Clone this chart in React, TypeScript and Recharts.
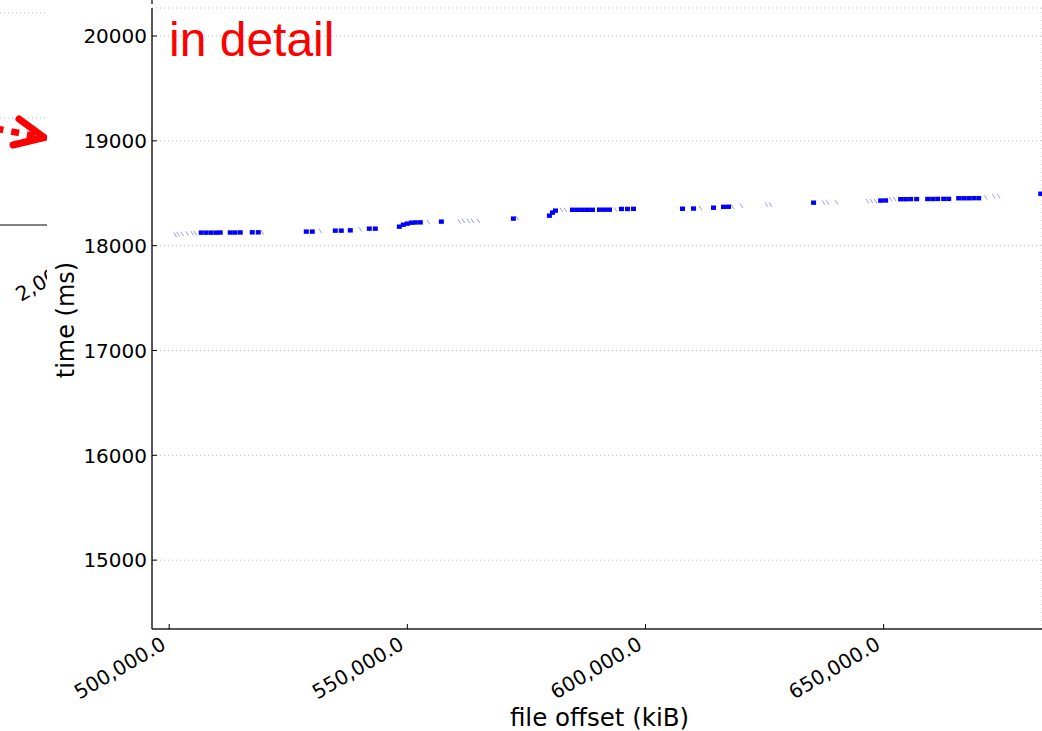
import React from 'react';
import { ScatterChart, Scatter, XAxis, YAxis, CartesianGrid, Customized } from 'recharts';

// file offset (kiB) / time (ms) of the dense (solid) request markers
const blockOffsets = [
  506723, 507773, 508823, 509874, 510714, 512815, 513815, 514916, 517437, 518697,
  528781, 530042, 534873, 536134, 538025, 542016, 543277, 548318, 549158, 549998,
  550839, 551680, 552730, 557142, 572267, 579830, 580461, 581091, 584662, 585713,
  586763, 587814, 588864, 590335, 591386, 592436, 594957, 596218, 597479, 607770,
  610082, 614284, 616385, 617436, 635291, 649370, 650420, 653568, 654618, 655669,
  656930, 659243, 660294, 661344, 662605, 663655, 665756, 666807, 667857, 668908,
  669958, 682980,
];
const blockTimes = [
  18124, 18124, 18124, 18124, 18125, 18125, 18125, 18126, 18127, 18127,
  18134, 18134, 18143, 18143, 18146, 18162, 18162, 18181, 18200, 18210,
  18219, 18221, 18222, 18229, 18258, 18286, 18315, 18334, 18342, 18342,
  18342, 18342, 18342, 18343, 18343, 18343, 18350, 18350, 18351, 18352,
  18354, 18362, 18370, 18371, 18410, 18430, 18431, 18443, 18443, 18444,
  18444, 18445, 18445, 18446, 18446, 18446, 18452, 18452, 18452, 18453,
  18453, 18495,
];

// sparse (faint) request markers
const faintOffsets = [
  501261, 501891, 502731, 503782, 504832, 505462, 519537, 531722, 540125, 554410,
  560923, 561763, 562814, 563654, 564914, 573108, 582351, 583192, 593696, 611553,
  618276, 620167, 625419, 626260, 637392, 638232, 640124, 646597, 647438, 648278,
  651467, 652307, 671428, 673109, 674159,
];
const faintTimes = [
  18105, 18110, 18112, 18115, 18118, 18120, 18127, 18140, 18155, 18225,
  18230, 18236, 18237, 18238, 18238, 18260, 18340, 18341, 18346, 18358,
  18372, 18380, 18391, 18392, 18410, 18411, 18412, 18425, 18426, 18427,
  18445, 18446, 18460, 18470, 18471,
];

const xTicks = [500000, 550000, 600000, 650000];
const yTicks = [15000, 16000, 17000, 18000, 19000, 20000];
const xDomain: [number, number] = [496390, 683249];
const yDomain: [number, number] = [14343, 20267];

const blockData = blockOffsets.map((x, i) => ({ x, y: blockTimes[i] }));
const faintData = faintOffsets.map((x, i) => ({ x, y: faintTimes[i] }));

const TICK_FONT = 'DejaVu Sans, sans-serif';

const fmtX = (v: number) =>
  v.toLocaleString('en-US', { minimumFractionDigits: 1, maximumFractionDigits: 1 });

const XTick = (props: any) => {
  const { x, y, payload } = props;
  const tx = x - 2;
  const ty = y + 19;
  return (
    <g>
      <line x1={x} y1={y} x2={x} y2={y - 5} stroke="#000" strokeWidth={1} />
      <text
        x={tx}
        y={ty}
        textAnchor="end"
        transform={`rotate(-30.5 ${tx} ${ty})`}
        fontSize={20}
        fontFamily={TICK_FONT}
        fill="#000"
      >
        {fmtX(payload.value)}
      </text>
    </g>
  );
};

const TopTick = (props: any) => {
  const { x, y } = props;
  return <line x1={x} y1={y} x2={x} y2={y + 5} stroke="#000" strokeWidth={1} />;
};

const YTick = (props: any) => {
  const { x, y, payload } = props;
  return (
    <g>
      <line x1={x} y1={y} x2={x + 5} y2={y} stroke="#000" strokeWidth={1} />
      <text
        x={x - 5}
        y={y}
        dy="0.36em"
        textAnchor="end"
        fontSize={20}
        fontFamily={TICK_FONT}
        fill="#000"
      >
        {payload.value}
      </text>
    </g>
  );
};

const BlockShape = (props: any) => {
  const { cx, cy } = props;
  return <rect x={cx - 2.5} y={cy - 2.2} width={5} height={4.4} fill="#0000ff" />;
};

const FaintShape = (props: any) => {
  const { cx, cy } = props;
  return (
    <line
      x1={cx - 1.4}
      y1={cy - 2.2}
      x2={cx + 1.4}
      y2={cy + 2.2}
      stroke="#9a9aff"
      strokeWidth={1}
    />
  );
};

const Decorations = () => (
  <g>
    <defs>
      <clipPath id="leftPanelClip">
        <rect x={0} y={0} width={47} height={731} />
      </clipPath>
    </defs>
    <g clipPath="url(#leftPanelClip)">
      <line x1={0} y1={13} x2={45} y2={13} stroke="#bbbbbb" strokeWidth={1} strokeDasharray="1 3" />
      <line x1={0} y1={118} x2={45} y2={118} stroke="#bbbbbb" strokeWidth={1} strokeDasharray="1 3" />
      <line x1={0} y1={225} x2={47} y2={225} stroke="#808080" strokeWidth={2} />
      <line
        x1={-4.5}
        y1={128.5}
        x2={40}
        y2={137}
        stroke="#ff0000"
        strokeWidth={6.5}
        strokeDasharray="8 8"
      />
      <polyline
        points="19,119 44,137.5 13,145"
        fill="none"
        stroke="#ff0000"
        strokeWidth={7}
        strokeLinecap="round"
        strokeLinejoin="miter"
      />
      <text
        x={21}
        y={302}
        transform="rotate(-30.5 21 302)"
        fontSize={20}
        fontFamily={TICK_FONT}
        fill="#000"
      >
        2,000,000.0
      </text>
    </g>
    <line x1={152} y1={0} x2={152} y2={4} stroke="#333" strokeWidth={1.5} />
    <text x={169} y={56} fontSize={48} fontFamily="Liberation Sans, Arial, sans-serif" fill="#ff0000">
      in detail
    </text>
    <text
      x={599.5}
      y={726}
      textAnchor="middle"
      fontSize={24.5}
      fontFamily={TICK_FONT}
      fill="#000"
    >
      file offset (kiB)
    </text>
    <text
      x={74}
      y={320}
      textAnchor="middle"
      transform="rotate(-90 74 320)"
      fontSize={24}
      fontFamily={TICK_FONT}
      fill="#000"
    >
      time (ms)
    </text>
  </g>
);

export default function App() {
  return (
    <div style={{ position: 'absolute', left: 0, top: 0, width: 1042, height: 731, background: '#fff' }}>
      <ScatterChart
        width={1042}
        height={731}
        margin={{ top: 8, right: 0, bottom: 10, left: 72 }}
      >
        <CartesianGrid stroke="#b8b8b8" strokeDasharray="1 3" strokeWidth={1} />
        <XAxis
          xAxisId="main"
          dataKey="x"
          type="number"
          domain={xDomain}
          ticks={xTicks}
          allowDataOverflow
          height={92}
          tickSize={0}
          tickMargin={0}
          tickLine={false}
          axisLine={{ stroke: '#222', strokeWidth: 1.5 }}
          tick={<XTick />}
          interval={0}
        />
        <XAxis
          xAxisId="top"
          orientation="top"
          dataKey="x"
          type="number"
          domain={xDomain}
          ticks={xTicks}
          allowDataOverflow
          height={0}
          tickSize={0}
          tickMargin={0}
          tickLine={false}
          axisLine={{ stroke: '#222', strokeWidth: 1.5 }}
          tick={<TopTick />}
          interval={0}
        />
        <YAxis
          dataKey="y"
          type="number"
          domain={yDomain}
          ticks={yTicks}
          allowDataOverflow
          width={80}
          tickSize={0}
          tickMargin={0}
          tickLine={false}
          axisLine={{ stroke: '#222', strokeWidth: 1.5 }}
          tick={<YTick />}
          interval={0}
        />
        <Scatter
          xAxisId="main"
          data={faintData}
          shape={<FaintShape />}
          isAnimationActive={false}
        />
        <Scatter
          xAxisId="main"
          data={blockData}
          shape={<BlockShape />}
          isAnimationActive={false}
        />
        <Customized component={Decorations} />
      </ScatterChart>
    </div>
  );
}
